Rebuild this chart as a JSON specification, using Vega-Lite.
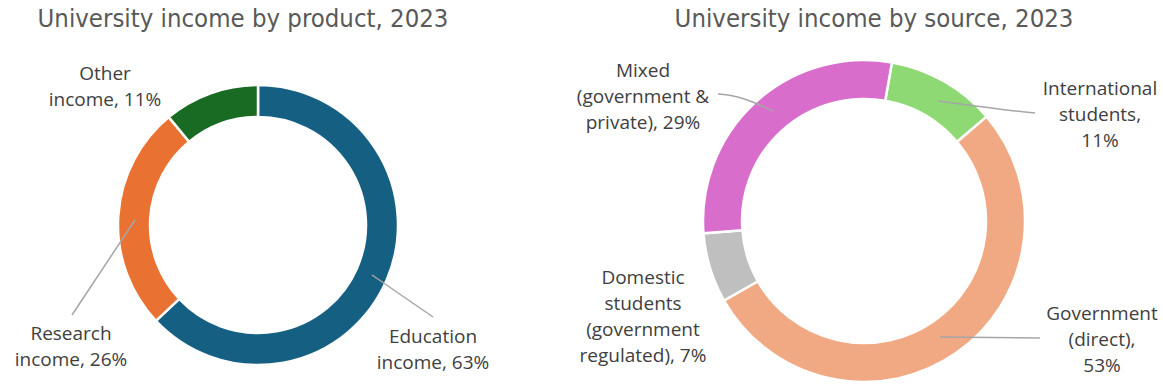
{
  "$schema": "https://vega.github.io/schema/vega-lite/v6.json",
  "width": 1163,
  "height": 388,
  "padding": 0,
  "autosize": {"type": "none"},
  "config": {"view": {"stroke": null}},
  "datasets": {
    "product": [
      {"name": "Education income", "value": 63, "rank": 1},
      {"name": "Research income", "value": 26, "rank": 2},
      {"name": "Other income", "value": 11, "rank": 3}
    ],
    "source": [
      {"name": "International students", "value": 11, "rank": 1},
      {"name": "Government (direct)", "value": 53, "rank": 2},
      {"name": "Domestic students (government regulated)", "value": 7, "rank": 3},
      {"name": "Mixed (government & private)", "value": 29, "rank": 4}
    ],
    "titles": [
      {"text": "University income by product, 2023", "x": 243, "y": 27},
      {"text": "University income by source, 2023", "x": 874, "y": 27}
    ],
    "labels": [
      {"text": "Other\nincome, 11%", "x": 105, "y": 80},
      {"text": "Research\nincome, 26%", "x": 71, "y": 340},
      {"text": "Education\nincome, 63%", "x": 433, "y": 343},
      {"text": "Mixed\n(government &\nprivate), 29%", "x": 643, "y": 77},
      {"text": "International\nstudents,\n11%", "x": 1100, "y": 95},
      {"text": "Government\n(direct),\n53%", "x": 1102, "y": 320},
      {"text": "Domestic\nstudents\n(government\nregulated), 7%", "x": 643, "y": 284}
    ],
    "leaders": [
      {"id": "research", "seq": 1, "x": 135, "y": 220},
      {"id": "research", "seq": 2, "x": 72, "y": 315},
      {"id": "education", "seq": 1, "x": 372, "y": 275},
      {"id": "education", "seq": 2, "x": 433, "y": 317},
      {"id": "mixed", "seq": 1, "x": 718, "y": 94},
      {"id": "mixed", "seq": 2, "x": 728, "y": 95},
      {"id": "mixed", "seq": 3, "x": 773, "y": 111},
      {"id": "intl", "seq": 1, "x": 938, "y": 101},
      {"id": "intl", "seq": 2, "x": 1025, "y": 112},
      {"id": "intl", "seq": 3, "x": 1035, "y": 113},
      {"id": "gov", "seq": 1, "x": 940, "y": 337},
      {"id": "gov", "seq": 2, "x": 1040, "y": 338}
    ]
  },
  "layer": [
    {
      "data": {"name": "product"},
      "mark": {"type": "arc", "outerRadius": 140, "innerRadius": 108, "stroke": "white", "strokeWidth": 2.5},
      "encoding": {
        "x": {"datum": 258, "type": "quantitative", "scale": {"domain": [0, 1163]}, "axis": null},
        "y": {"datum": 225, "type": "quantitative", "scale": {"domain": [0, 388], "reverse": true}, "axis": null},
        "theta": {"field": "value", "type": "quantitative", "stack": true, "scale": {"range": [0, 6.2832]}},
        "order": {"field": "rank"},
        "color": {"field": "name", "type": "nominal", "legend": null,
          "scale": {"domain": ["Education income", "Research income", "Other income"], "range": ["#156082", "#E97132", "#196B24"]}}
      }
    },
    {
      "data": {"name": "source"},
      "mark": {"type": "arc", "outerRadius": 161, "innerRadius": 122, "stroke": "white", "strokeWidth": 2.5},
      "encoding": {
        "x": {"datum": 864, "type": "quantitative", "scale": {"domain": [0, 1163]}, "axis": null},
        "y": {"datum": 221, "type": "quantitative", "scale": {"domain": [0, 388], "reverse": true}, "axis": null},
        "theta": {"field": "value", "type": "quantitative", "stack": true, "scale": {"range": [0.1745, 6.4577]}},
        "order": {"field": "rank"},
        "color": {"field": "name", "type": "nominal", "legend": null,
          "scale": {"domain": ["International students", "Government (direct)", "Domestic students (government regulated)", "Mixed (government & private)"], "range": ["#8ED973", "#F1A983", "#BFBFBF", "#D86DCB"]}}
      }
    },
    {
      "data": {"name": "leaders"},
      "mark": {"type": "line", "stroke": "#A6A6A6", "strokeWidth": 1.5, "interpolate": "monotone"},
      "encoding": {
        "x": {"field": "x", "type": "quantitative", "scale": {"domain": [0, 1163]}, "axis": null},
        "y": {"field": "y", "type": "quantitative", "scale": {"domain": [0, 388], "reverse": true}, "axis": null},
        "detail": {"field": "id"},
        "order": {"field": "seq"}
      }
    },
    {
      "data": {"name": "labels"},
      "mark": {"type": "text", "align": "center", "baseline": "alphabetic", "lineBreak": "\n", "lineHeight": 26, "fontSize": 19, "font": "Open Sans", "color": "#404040"},
      "encoding": {
        "x": {"field": "x", "type": "quantitative", "scale": {"domain": [0, 1163]}, "axis": null},
        "y": {"field": "y", "type": "quantitative", "scale": {"domain": [0, 388], "reverse": true}, "axis": null},
        "text": {"field": "text"}
      }
    },
    {
      "data": {"name": "titles"},
      "mark": {"type": "text", "align": "center", "baseline": "alphabetic", "fontSize": 25.5, "font": "DejaVu Sans Condensed, sans-serif", "color": "#595959"},
      "encoding": {
        "x": {"field": "x", "type": "quantitative", "scale": {"domain": [0, 1163]}, "axis": null},
        "y": {"field": "y", "type": "quantitative", "scale": {"domain": [0, 388], "reverse": true}, "axis": null},
        "text": {"field": "text"}
      }
    }
  ],
  "resolve": {"scale": {"theta": "independent", "color": "independent"}}
}
